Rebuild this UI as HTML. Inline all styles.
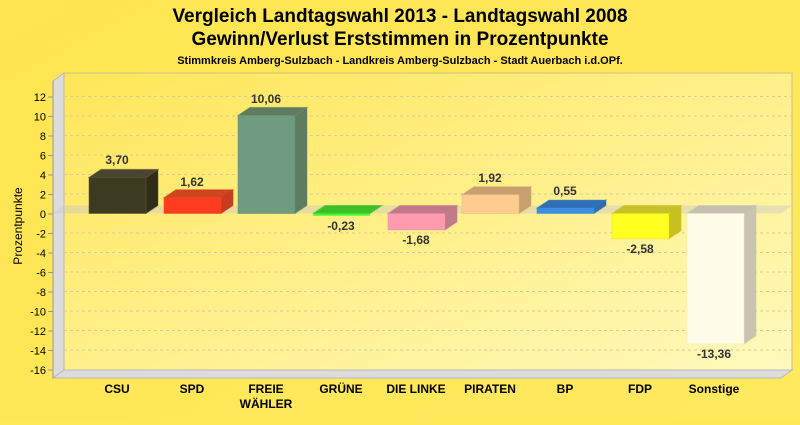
<!DOCTYPE html>
<html><head><meta charset="utf-8"><style>
body{margin:0;width:800px;height:420px;overflow:hidden;background:#ffe85a;font-family:"Liberation Sans",Arial,sans-serif}
</style></head><body>
<svg width="800" height="420" xmlns="http://www.w3.org/2000/svg" font-family="Liberation Sans, Arial, sans-serif">
<defs>
<linearGradient id="bg" x1="0" y1="0" x2="1" y2="1"><stop offset="0" stop-color="#ffe550"/><stop offset="1" stop-color="#ffe95e"/></linearGradient>
<linearGradient id="wall" x1="0" y1="0" x2="1" y2="1"><stop offset="0" stop-color="#ffe658"/><stop offset="1" stop-color="#fff9bc"/></linearGradient>
</defs>
<rect width="800" height="420" fill="url(#bg)"/>
<text x="400" y="22" text-anchor="middle" font-size="19" font-weight="bold">Vergleich Landtagswahl 2013 - Landtagswahl 2008</text>
<text x="400" y="45" text-anchor="middle" font-size="19" font-weight="bold">Gewinn/Verlust Erststimmen in Prozentpunkte</text>
<text x="400" y="64" text-anchor="middle" font-size="11" font-weight="bold">Stimmkreis Amberg-Sulzbach - Landkreis Amberg-Sulzbach - Stadt Auerbach i.d.OPf.</text>
<rect x="64" y="73" width="728" height="297" fill="url(#wall)" stroke="#c8c090" stroke-width="1"/>
<polygon points="53,81 64,73 64,370 53,378" fill="#dcdcdc" stroke="#b8b8b8"/>
<polygon points="53,378 64,370 792,370 781,378" fill="#dcdcdc" stroke="#b8b8b8"/>
<g stroke="#d8cc90" stroke-dasharray="3,3" stroke-width="1">
<line x1="64" x2="792" y1="96.5" y2="96.5"/><line x1="64" x2="792" y1="116" y2="116"/><line x1="64" x2="792" y1="135.5" y2="135.5"/><line x1="64" x2="792" y1="155" y2="155"/><line x1="64" x2="792" y1="174.5" y2="174.5"/><line x1="64" x2="792" y1="194" y2="194"/><line x1="64" x2="792" y1="233" y2="233"/><line x1="64" x2="792" y1="252.5" y2="252.5"/><line x1="64" x2="792" y1="272" y2="272"/><line x1="64" x2="792" y1="291.5" y2="291.5"/><line x1="64" x2="792" y1="311" y2="311"/><line x1="64" x2="792" y1="330.5" y2="330.5"/><line x1="64" x2="792" y1="350" y2="350"/>
</g>
<g stroke="#999" stroke-width="1">
<line x1="53" x2="53" y1="81" y2="378"/>
<line x1="48" x2="53" y1="97" y2="97"/><line x1="48" x2="53" y1="116.5" y2="116.5"/><line x1="48" x2="53" y1="136" y2="136"/><line x1="48" x2="53" y1="155.5" y2="155.5"/><line x1="48" x2="53" y1="175" y2="175"/><line x1="48" x2="53" y1="194.5" y2="194.5"/><line x1="48" x2="53" y1="214" y2="214"/><line x1="48" x2="53" y1="233.5" y2="233.5"/><line x1="48" x2="53" y1="253" y2="253"/><line x1="48" x2="53" y1="272.5" y2="272.5"/><line x1="48" x2="53" y1="292" y2="292"/><line x1="48" x2="53" y1="311.5" y2="311.5"/><line x1="48" x2="53" y1="331" y2="331"/><line x1="48" x2="53" y1="350.5" y2="350.5"/><line x1="48" x2="53" y1="370" y2="370"/>
</g>
<g font-size="11" text-anchor="end" fill="#000">
<text x="46" y="101">12</text><text x="46" y="120.5">10</text><text x="46" y="140">8</text><text x="46" y="159.5">6</text><text x="46" y="179">4</text><text x="46" y="198.5">2</text><text x="46" y="218">0</text><text x="46" y="237.5">-2</text><text x="46" y="257">-4</text><text x="46" y="276.5">-6</text><text x="46" y="296">-8</text><text x="46" y="315.5">-10</text><text x="46" y="335">-12</text><text x="46" y="354.5">-14</text><text x="46" y="374">-16</text>
</g>
<text transform="translate(22,226) rotate(-90)" text-anchor="middle" font-size="12">Prozentpunkte</text>
<polygon points="53,213.5 64,205.5 792,205.5 781,213.5" fill="#c8c8c8" opacity="0.45"/>
<g stroke-opacity="0.5" stroke-width="1">
<!-- CSU -->
<polygon points="146,177.4 158,169.4 158,205.5 146,213.5" fill="#2f2c1a" stroke="#5a5530"/>
<polygon points="89,177.4 101,169.4 158,169.4 146,177.4" fill="#4a4530" stroke="#5a5530"/>
<rect x="89" y="177.4" width="57" height="36.1" fill="#3d3a22" stroke="#5a5530"/>
<!-- SPD -->
<polygon points="221,197.7 233,189.7 233,205.5 221,213.5" fill="#c83c1e" stroke="#c83c1e"/>
<polygon points="164,197.7 176,189.7 233,189.7 221,197.7" fill="#d04420" stroke="#c83c1e"/>
<rect x="164" y="197.7" width="57" height="15.8" fill="#ff3c1e" stroke="#e05030"/>
<!-- FREIE -->
<polygon points="295,115.4 307,107.4 307,205.5 295,213.5" fill="#5e7c60" stroke="#6a8a68"/>
<polygon points="238,115.4 250,107.4 307,107.4 295,115.4" fill="#5e7c60" stroke="#6a8a68"/>
<rect x="238" y="115.4" width="57" height="98.1" fill="#6f9b80" stroke="#6a8a68"/>
<!-- GRUENE -->
<polygon points="313,213.5 325,205.5 382,205.5 370,213.5" fill="#3cc028" stroke="#3cc028"/>
<rect x="313" y="213.5" width="57" height="2.2" fill="#40ff30"/>
<!-- LINKE -->
<polygon points="445,213.5 457,205.5 457,221.9 445,229.9" fill="#c07a88" stroke="#c07a88"/>
<polygon points="388,213.5 400,205.5 457,205.5 445,213.5" fill="#c0788a" stroke="#c07a88"/>
<rect x="388" y="213.5" width="57" height="16.4" fill="#ff9bb0" stroke="#e090a0"/>
<!-- PIRATEN -->
<polygon points="519,194.8 531,186.8 531,205.5 519,213.5" fill="#c8a070" stroke="#c8a070"/>
<polygon points="462,194.8 474,186.8 531,186.8 519,194.8" fill="#c8a070" stroke="#c8a070"/>
<rect x="462" y="194.8" width="57" height="18.7" fill="#ffcc90" stroke="#e8b880"/>
<!-- BP -->
<polygon points="594,208.1 606,200.1 606,205.5 594,213.5" fill="#2e6eb0" stroke="#2e6eb0"/>
<polygon points="537,208.1 549,200.1 606,200.1 594,208.1" fill="#3070b8" stroke="#2e6eb0"/>
<rect x="537" y="208.1" width="57" height="5.4" fill="#3a8ee0" stroke="#3a8ee0"/>
<!-- FDP -->
<polygon points="669,213.5 681,205.5 681,230.7 669,238.7" fill="#c8c020" stroke="#c8c020"/>
<polygon points="612,213.5 624,205.5 681,205.5 669,213.5" fill="#c8c028" stroke="#c8c020"/>
<rect x="612" y="213.5" width="57" height="25.2" fill="#ffff20" stroke="#e8e020"/>
<!-- Sonstige -->
<polygon points="744,213.5 756,205.5 756,335.8 744,343.8" fill="#c8c4b0" stroke="#c8c4b0"/>
<polygon points="687,213.5 699,205.5 756,205.5 744,213.5" fill="#c4c0b0" stroke="#c8c4b0"/>
<rect x="687" y="213.5" width="57" height="130.3" fill="#fffce8" stroke="#eeead0"/>
</g>
<g font-size="12" font-weight="bold" fill="#333" text-anchor="middle">
<text x="117" y="164">3,70</text><text x="192" y="186">1,62</text><text x="266" y="103">10,06</text><text x="341" y="230">-0,23</text><text x="416" y="244">-1,68</text><text x="490" y="182">1,92</text><text x="565" y="195">0,55</text><text x="640" y="253">-2,58</text><text x="714" y="358">-13,36</text>
</g>
<g font-size="12" font-weight="bold" fill="#000" text-anchor="middle">
<text x="117" y="393">CSU</text><text x="192" y="393">SPD</text><text x="266" y="393">FREIE</text><text x="266" y="408">WÄHLER</text><text x="341" y="393">GRÜNE</text><text x="416" y="393">DIE LINKE</text><text x="490" y="393">PIRATEN</text><text x="565" y="393">BP</text><text x="640" y="393">FDP</text><text x="714" y="393">Sonstige</text>
</g>
</svg>
</body></html>
